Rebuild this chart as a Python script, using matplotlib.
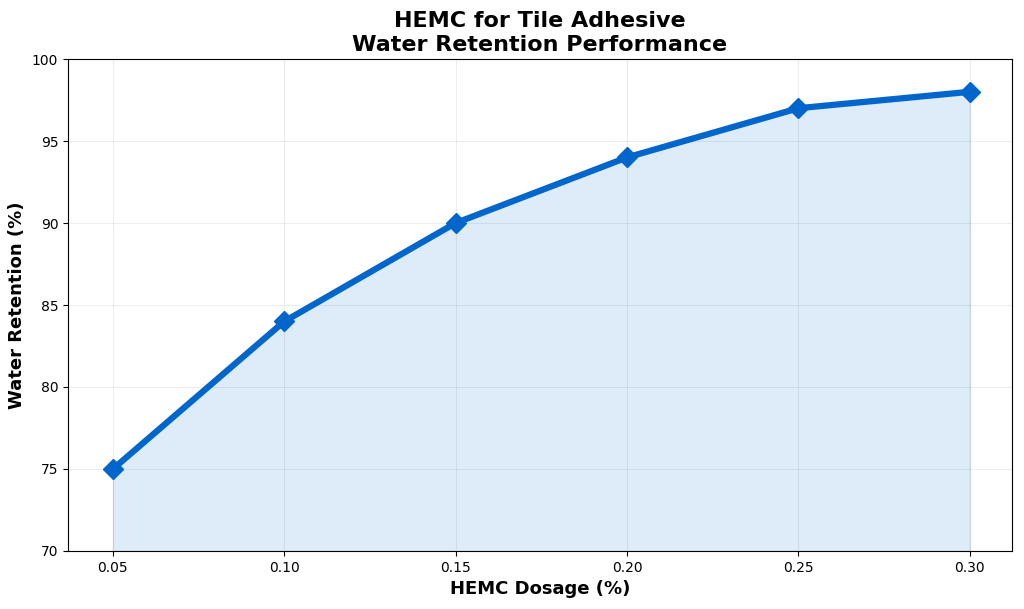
import matplotlib
matplotlib.use("Agg")
import matplotlib.pyplot as plt

dosage = [0.05, 0.10, 0.15, 0.20, 0.25, 0.30]
retention = [75, 84, 90, 94, 97, 98]
xticks = [0.05, 0.10, 0.15, 0.20, 0.25, 0.30]
xtick_labels = ["0.05", "0.10", "0.15", "0.20", "0.25", "0.30"]

fig = plt.figure(figsize=(10.24, 6.09), dpi=100)
ax = fig.add_axes([68/1024, 58/609, (1012-68)/1024, (551-59)/609])

color = "#0066CC"
ax.fill_between(dosage, retention, 70, color=color, alpha=0.13)
ax.plot(dosage, retention, color=color, linewidth=4.5, marker="D", markersize=10)

ax.set_ylim(70, 100)
ax.set_xlim(0.0369, 0.3123)
ax.set_xticks(xticks)
ax.set_xticklabels(xtick_labels)
ax.set_yticks([70, 75, 80, 85, 90, 95, 100])
ax.tick_params(labelsize=10)
ax.grid(True, alpha=0.22, linewidth=0.8)
ax.set_axisbelow(True)

ax.set_xlabel("HEMC Dosage (%)", fontsize=13, fontweight="bold")
ax.set_ylabel("Water Retention (%)", fontsize=13, fontweight="bold")
ax.set_title("HEMC for Tile Adhesive\nWater Retention Performance", fontsize=16, fontweight="bold", pad=6)

fig.savefig("out.png", dpi=100)
